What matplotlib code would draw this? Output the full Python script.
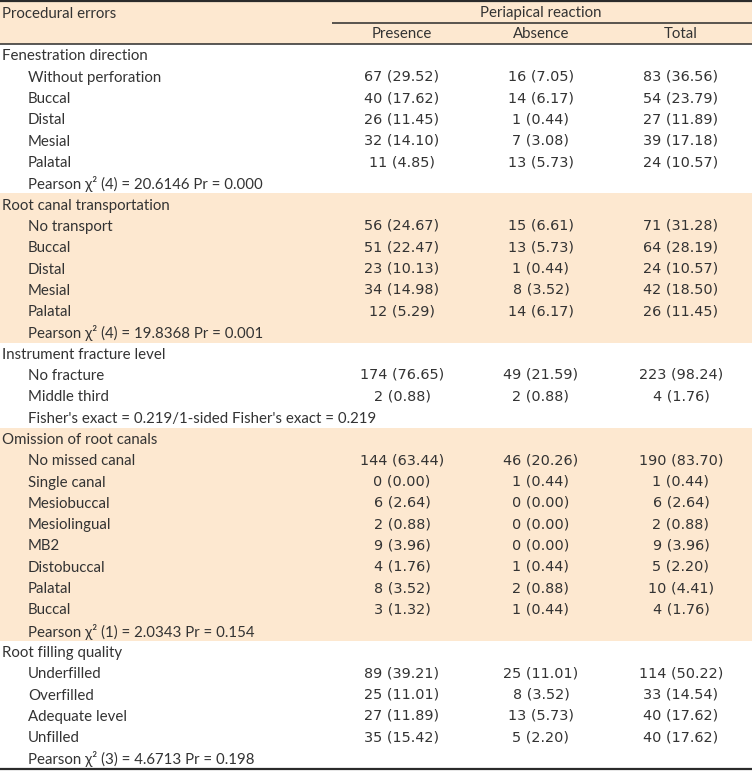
import matplotlib
matplotlib.use("Agg")
import matplotlib.pyplot as plt
from matplotlib.patches import Rectangle

# ---------------- data ----------------
group_names = ["Fenestration direction", "Root canal transportation",
               "Instrument fracture level", "Omission of root canals",
               "Root filling quality"]
group_items = [
    ["Without perforation", "Buccal", "Distal", "Mesial", "Palatal"],
    ["No transport", "Buccal", "Distal", "Mesial", "Palatal"],
    ["No fracture", "Middle third"],
    ["No missed canal", "Single canal", "Mesiobuccal", "Mesiolingual", "MB2",
     "Distobuccal", "Palatal", "Buccal"],
    ["Underfilled", "Overfilled", "Adequate level", "Unfilled"],
]
presence_n = [[67, 40, 26, 32, 11], [56, 51, 23, 34, 12], [174, 2],
              [144, 0, 6, 2, 9, 4, 8, 3], [89, 25, 27, 35]]
presence_pct = [[29.52, 17.62, 11.45, 14.10, 4.85], [24.67, 22.47, 10.13, 14.98, 5.29],
                [76.65, 0.88], [63.44, 0.00, 2.64, 0.88, 3.96, 1.76, 3.52, 1.32],
                [39.21, 11.01, 11.89, 15.42]]
absence_n = [[16, 14, 1, 7, 13], [15, 13, 1, 8, 14], [49, 2],
             [46, 1, 0, 0, 0, 1, 2, 1], [25, 8, 13, 5]]
absence_pct = [[7.05, 6.17, 0.44, 3.08, 5.73], [6.61, 5.73, 0.44, 3.52, 6.17],
               [21.59, 0.88], [20.26, 0.44, 0.00, 0.00, 0.00, 0.44, 0.88, 0.44],
               [11.01, 3.52, 5.73, 2.20]]
total_n = [[83, 54, 27, 39, 24], [71, 64, 24, 42, 26], [223, 4],
           [190, 1, 6, 2, 9, 5, 10, 4], [114, 33, 40, 40]]
total_pct = [[36.56, 23.79, 11.89, 17.18, 10.57], [31.28, 28.19, 10.57, 18.50, 11.45],
             [98.24, 1.76], [83.70, 0.44, 2.64, 0.88, 3.96, 2.20, 4.41, 1.76],
             [50.22, 14.54, 17.62, 17.62]]
group_stats = [
    "Pearson \u03c7\u00b2 (4) = 20.6146 Pr = 0.000",
    "Pearson \u03c7\u00b2 (4) = 19.8368 Pr = 0.001",
    "Fisher's exact = 0.219/1-sided Fisher's exact = 0.219",
    "Pearson \u03c7\u00b2 (1) = 2.0343 Pr = 0.154",
    "Pearson \u03c7\u00b2 (3) = 4.6713 Pr = 0.198",
]
shaded_groups = [1, 3]
header_left = "Procedural errors"
header_span = "Periapical reaction"
col_headers = ["Presence", "Absence", "Total"]

# ---------------- layout ----------------
W, H = 752, 772
fig = plt.figure(figsize=(W / 100, H / 100), dpi=100)
ax = fig.add_axes([0, 0, 1, 1])
ax.set_xlim(0, W)
ax.set_ylim(H, 0)
ax.axis("off")

FONT = ["Lato", "DejaVu Sans"]
NUMFONT = ["DejaVu Sans"]
FS = 10.8
NFS = 10.4
TC = "#333333"
SHADE = "#FDE8D0"
LC = "#2b2b2b"

col_x = [402, 541, 681]
x1, x2 = 2, 28
y0 = 55.0
pitch = 21.3
dy = 1.5  # small baseline correction for label font

# header
ax.add_patch(Rectangle((0, 0), W, 44, facecolor=SHADE, edgecolor="none", zorder=0))
ax.text(x1, 12 + dy, header_left, fontsize=FS, family=FONT, color=TC, va="center", ha="left")
ax.text(col_x[1], 12 + dy, header_span, fontsize=FS, family=FONT, color=TC, va="center", ha="center")
for cx, h in zip(col_x, col_headers):
    ax.text(cx, 33 + dy, h, fontsize=FS, family=FONT, color=TC, va="center", ha="center")
ax.plot([0, W], [1, 1], color=LC, lw=1.6, solid_capstyle="butt")
ax.plot([332, W], [22.5, 22.5], color=LC, lw=1.1, solid_capstyle="butt")
ax.plot([0, W], [44, 44], color=LC, lw=1.1, solid_capstyle="butt")

row = 0
for g, gname in enumerate(group_names):
    n_rows = len(group_items[g]) + 2
    top = y0 + row * pitch - pitch / 2
    if g in shaded_groups:
        ax.add_patch(Rectangle((0, top), W, n_rows * pitch, facecolor=SHADE,
                               edgecolor="none", zorder=0))
    y = y0 + row * pitch
    ax.text(x1, y + dy, gname, fontsize=FS, family=FONT, color=TC, va="center", ha="left")
    row += 1
    for i, item in enumerate(group_items[g]):
        y = y0 + row * pitch
        ax.text(x2, y + dy, item, fontsize=FS, family=FONT, color=TC, va="center", ha="left")
        vals = [(presence_n[g][i], presence_pct[g][i]),
                (absence_n[g][i], absence_pct[g][i]),
                (total_n[g][i], total_pct[g][i])]
        for cx, (n, p) in zip(col_x, vals):
            ax.text(cx, y + 0.5, f"{n} ({p:.2f})", fontsize=NFS, family=NUMFONT, color=TC,
                    va="center", ha="center")
        row += 1
    y = y0 + row * pitch
    ax.text(x2, y + dy, group_stats[g], fontsize=FS, family=FONT, color=TC, va="center", ha="left")
    row += 1

bottom = y0 + (row - 1) * pitch + 11
ax.plot([0, W], [bottom, bottom], color=LC, lw=1.6, solid_capstyle="butt")

fig.savefig("out.png", dpi=100)
